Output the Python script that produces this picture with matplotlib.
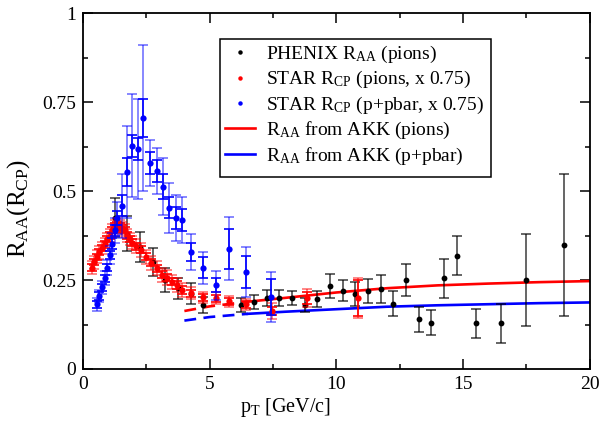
import matplotlib
matplotlib.use('Agg')
import matplotlib.pyplot as plt
from matplotlib.patches import Rectangle
from matplotlib.ticker import MultipleLocator, FixedLocator, FixedFormatter

plt.rcParams['font.family'] = ['Liberation Serif', 'DejaVu Serif']
plt.rcParams['mathtext.fontset'] = 'custom'
plt.rcParams['mathtext.rm'] = 'Liberation Serif'
plt.rcParams['mathtext.it'] = 'Liberation Serif:italic'
plt.rcParams['mathtext.bf'] = 'Liberation Serif:bold'

# ---------------- data ----------------
# PHENIX R_AA (pions)
phenix_pt = [1.25, 1.75, 2.25, 2.75, 3.25, 3.75, 4.25, 4.75, 6.25, 6.75, 7.25, 7.75,
             8.25, 8.75, 9.25, 9.75, 10.25, 10.75, 11.25, 11.75, 12.25, 12.75, 13.25,
             13.75, 14.25, 14.75, 15.5, 16.5, 17.5, 19.0]
phenix_val = [0.425, 0.38, 0.344, 0.300, 0.250, 0.227, 0.212, 0.180, 0.180, 0.189, 0.199, 0.200,
              0.199, 0.180, 0.196, 0.234, 0.220, 0.210, 0.220, 0.225, 0.184, 0.249, 0.140,
              0.130, 0.255, 0.318, 0.128, 0.128, 0.250, 0.348]
phenix_err = [0.055, 0.049, 0.042, 0.039, 0.034, 0.030, 0.030, 0.022, 0.020, 0.020, 0.022, 0.022,
              0.020, 0.020, 0.022, 0.034, 0.030, 0.034, 0.034, 0.040, 0.034, 0.045, 0.035,
              0.035, 0.055, 0.055, 0.040, 0.054, 0.129, 0.199]

# STAR R_CP (pions, x 0.75)
star_pi_pt = [0.35, 0.45, 0.55, 0.65, 0.75, 0.85, 0.95, 1.05, 1.15, 1.25, 1.35, 1.45,
              1.55, 1.65, 1.75, 1.85, 1.95, 2.1, 2.3, 2.5, 2.7, 2.9, 3.1, 3.3, 3.5,
              3.7, 3.9, 4.25, 4.75, 5.25, 5.75, 6.45, 7.45, 8.85, 10.85]
star_pi_val = [0.285, 0.300, 0.315, 0.328, 0.340, 0.350, 0.365, 0.375, 0.390, 0.400, 0.405, 0.400,
               0.395, 0.390, 0.375, 0.365, 0.355, 0.345, 0.335, 0.315, 0.298, 0.283, 0.265, 0.257, 0.245,
               0.236, 0.222, 0.213, 0.201, 0.199, 0.190, 0.182, 0.163, 0.199, 0.200]
star_pi_tot = [0.018, 0.018, 0.018, 0.018, 0.018, 0.018, 0.018, 0.018, 0.018, 0.018, 0.018, 0.018,
               0.018, 0.018, 0.018, 0.018, 0.018, 0.02, 0.02, 0.02, 0.02, 0.02, 0.02, 0.02, 0.02,
               0.02, 0.02, 0.016, 0.016, 0.016, 0.016, 0.016, 0.022, 0.026, 0.056]
star_pi_stat = [0.009, 0.009, 0.009, 0.009, 0.009, 0.009, 0.009, 0.009, 0.009, 0.009, 0.009, 0.009,
                0.009, 0.009, 0.009, 0.009, 0.009, 0.01, 0.01, 0.01, 0.01, 0.01, 0.01, 0.01, 0.01,
                0.01, 0.01, 0.01, 0.01, 0.01, 0.01, 0.01, 0.012, 0.016, 0.05]

# STAR R_CP (p+pbar, x 0.75)
star_p_pt = [0.55, 0.65, 0.75, 0.85, 0.95, 1.05, 1.15, 1.25, 1.35, 1.55, 1.75, 1.95,
             2.15, 2.35, 2.65, 2.90, 3.15, 3.40, 3.65, 3.90, 4.25, 4.75, 5.25, 5.75,
             6.45, 7.40]
star_p_val = [0.182, 0.205, 0.230, 0.255, 0.285, 0.320, 0.352, 0.390, 0.425, 0.459, 0.554, 0.627,
              0.618, 0.705, 0.579, 0.556, 0.512, 0.453, 0.424, 0.419, 0.329, 0.285, 0.235, 0.338,
              0.272, 0.202]
star_p_tot = [0.018, 0.018, 0.018, 0.02, 0.02, 0.025, 0.03, 0.035, 0.045, 0.09, 0.13, 0.145,
              0.14, 0.205, 0.065, 0.065, 0.08, 0.07, 0.065, 0.065, 0.05, 0.045, 0.04, 0.088,
              0.07, 0.07]
star_p_stat = [0.01, 0.01, 0.01, 0.01, 0.01, 0.012, 0.015, 0.015, 0.02, 0.03, 0.04, 0.03,
               0.03, 0.053, 0.03, 0.03, 0.035, 0.03, 0.03, 0.03, 0.025, 0.03, 0.02, 0.056,
               0.045, 0.05]

# R_AA from AKK
akk_pt = [4.0, 5.0, 6.5, 8.0, 10.0, 12.0, 14.0, 16.0, 18.0, 20.0]
akk_pions = [0.163, 0.176, 0.189, 0.200, 0.215, 0.227, 0.235, 0.240, 0.244, 0.247]
akk_protons = [0.136, 0.146, 0.155, 0.161, 0.168, 0.175, 0.179, 0.182, 0.185, 0.187]
akk_dash_end = 6.5

labels = [r'PHENIX R$_\mathrm{AA}$ (pions)',
          r'STAR R$_\mathrm{CP}$ (pions, x 0.75)',
          r'STAR R$_\mathrm{CP}$ (p+pbar, x 0.75)',
          r'R$_\mathrm{AA}$ from AKK (pions)',
          r'R$_\mathrm{AA}$ from AKK (p+pbar)']

xticks = [0, 5, 10, 15, 20]
xticklabels = ['0', '5', '10', '15', '20']
yticks = [0, 0.25, 0.5, 0.75, 1.0]
yticklabels = ['0', '0.25', '0.5', '0.75', '1']

# ---------------- figure ----------------
FS = 14
fig = plt.figure(figsize=(6.15, 4.22), dpi=100)
ax = fig.add_axes([0.135, 0.1256, 0.824, 0.8434])

def split(xs, ys, xcut):
    a = [(x, y) for x, y in zip(xs, ys) if x <= xcut]
    b = [(x, y) for x, y in zip(xs, ys) if x >= xcut]
    return list(zip(*a)), list(zip(*b))

for vals, col in [(akk_pions, '#ff0000'), (akk_protons, '#0000ff')]:
    (dx, dy), (sx, sy) = split(akk_pt, vals, akk_dash_end)
    ax.plot(dx, dy, color=col, lw=1.9, ls=(0, (4.5, 2.8)), zorder=2)
    ax.plot(sx, sy, color=col, lw=1.9, zorder=2)

# PHENIX
ax.errorbar(phenix_pt, phenix_val, yerr=phenix_err, fmt='none', ecolor='black', alpha=0.7,
            elinewidth=1.2, capsize=3.6, capthick=1.2, zorder=3)
ax.plot(phenix_pt, phenix_val, 'o', color='black', ms=4.2, mec='none', zorder=4)

def star(x, y, etot, estat, col, z):
    ax.errorbar(x, y, yerr=etot, fmt='none', ecolor=col, alpha=0.55, elinewidth=1.2,
                capsize=3.8, capthick=1.2, zorder=z)
    ax.errorbar(x, y, yerr=estat, fmt='none', ecolor=col, elinewidth=1.2,
                capsize=3.8, capthick=1.2, zorder=z)
    ax.plot(x, y, 'o', color=col, ms=4.5, mec='none', zorder=z + 0.5)

star(star_pi_pt, star_pi_val, star_pi_tot, star_pi_stat, '#ff0000', 5)
star(star_p_pt, star_p_val, star_p_tot, star_p_stat, '#0000ff', 6)

ax.set_xlim(0, 20)
ax.set_ylim(0, 1)
ax.xaxis.set_major_locator(FixedLocator(xticks))
ax.xaxis.set_major_formatter(FixedFormatter(xticklabels))
ax.yaxis.set_major_locator(FixedLocator(yticks))
ax.yaxis.set_major_formatter(FixedFormatter(yticklabels))
ax.xaxis.set_minor_locator(MultipleLocator(2.5))
ax.yaxis.set_minor_locator(MultipleLocator(0.125))
ax.tick_params(which='both', direction='in', top=True, right=True, labelsize=FS, width=1.1)
ax.tick_params(which='major', length=7, pad=5)
ax.tick_params(which='minor', length=3.5)
for s in ax.spines.values():
    s.set_linewidth(1.3)

ax.set_xlabel(r'p$_\mathrm{T}$ [GeV/c]', fontsize=FS + 0.5)
ax.xaxis.set_label_coords(0.40, -0.075)
ax.set_ylabel(r'R$_\mathrm{AA}$(R$_\mathrm{CP}$)', fontsize=18)
ax.yaxis.set_label_coords(-0.10, 0.45)

handles = [
    plt.Line2D([], [], ls='none', marker='o', color='black', ms=3.2, mec='none'),
    plt.Line2D([], [], ls='none', marker='o', color='#ff0000', ms=3.2, mec='none'),
    plt.Line2D([], [], ls='none', marker='o', color='#0000ff', ms=3.2, mec='none'),
    plt.Line2D([], [], color='#ff0000', lw=1.9),
    plt.Line2D([], [], color='#0000ff', lw=1.9),
]
# legend box frame
ax.add_patch(Rectangle((0.2702, 0.5393), 0.8047 - 0.2702, 0.927 - 0.5393,
                       transform=ax.transAxes, facecolor='white', edgecolor='black',
                       lw=1.1, zorder=9))
leg = ax.legend(handles, labels, loc='upper left', bbox_to_anchor=(0.2702, 0.927),
                borderaxespad=0, fontsize=FS, frameon=False, handlelength=1.55,
                handletextpad=0.55, labelspacing=0.22, borderpad=0.25)
leg.set_zorder(10)

fig.savefig('out.png', dpi=100)
